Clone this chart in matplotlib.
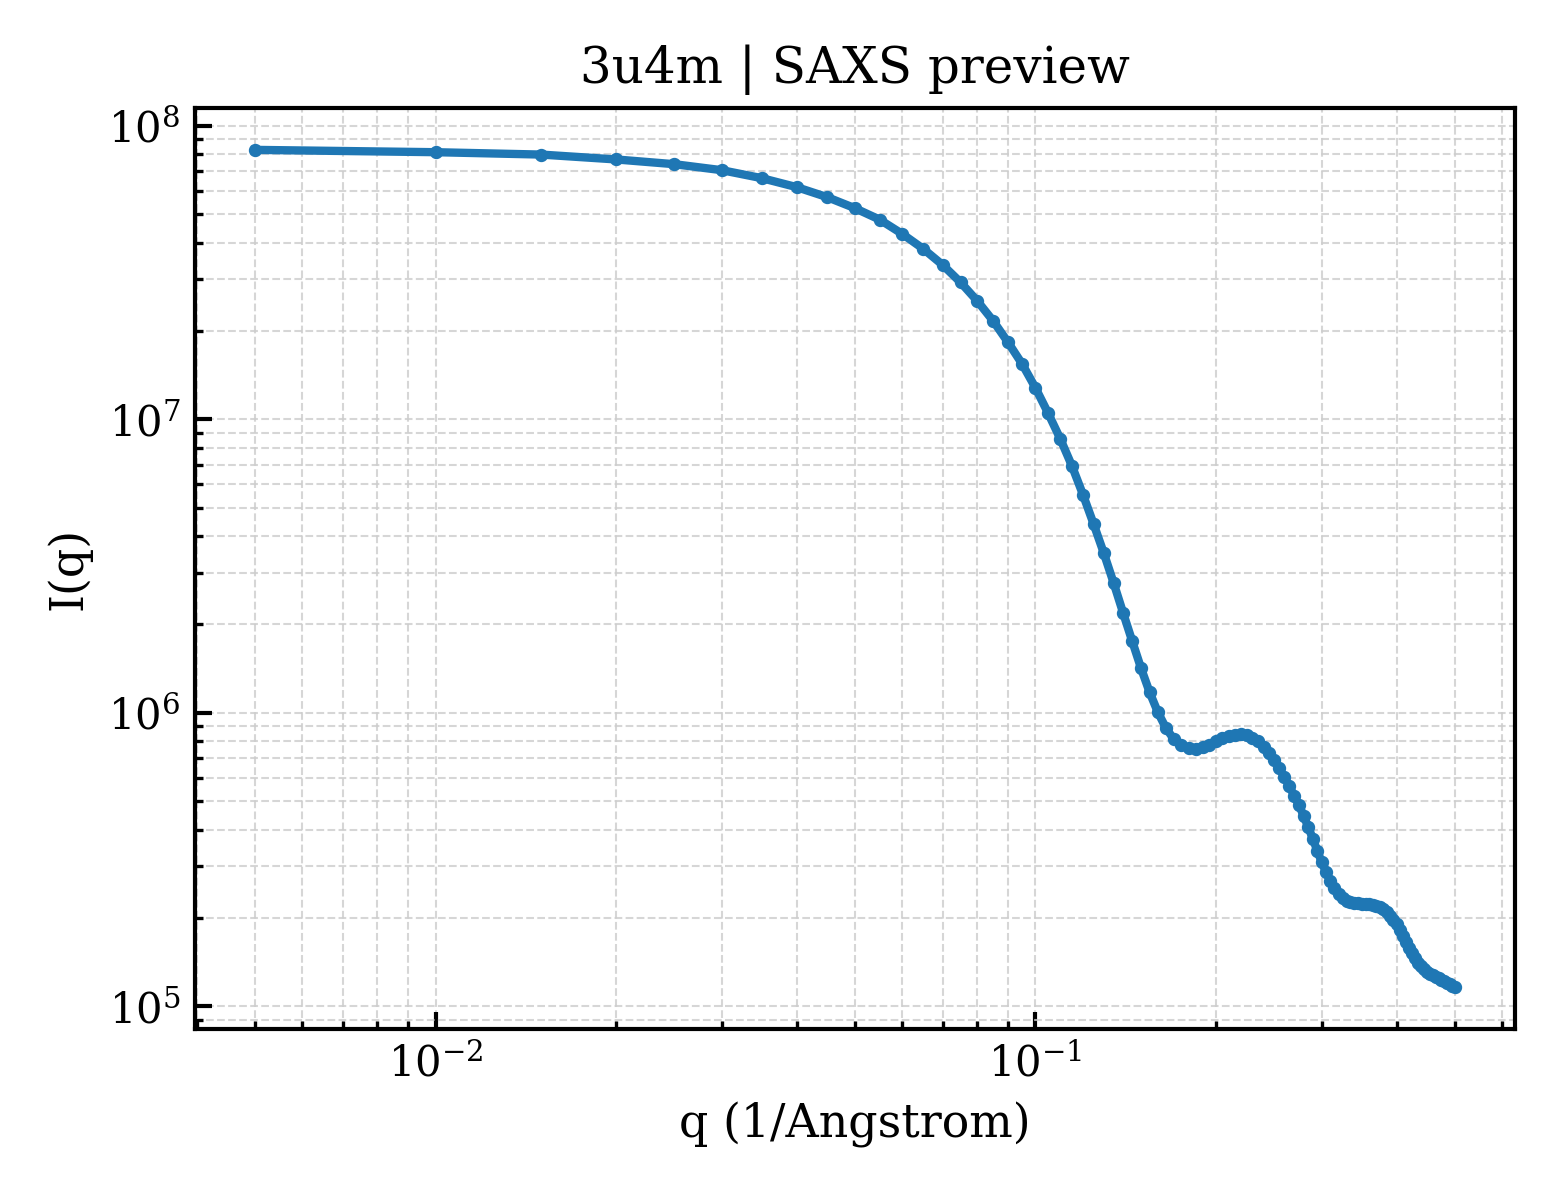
import matplotlib
matplotlib.use("Agg")
import matplotlib.pyplot as plt

pdb_id = "3u4m"

q = [0.005, 0.010, 0.015, 0.020, 0.025, 0.030, 0.035, 0.040, 0.045, 0.050,
     0.055, 0.060, 0.065, 0.070, 0.075, 0.080, 0.085, 0.090, 0.095, 0.100,
     0.105, 0.110, 0.115, 0.120, 0.125, 0.130, 0.135, 0.140, 0.145, 0.150,
     0.155, 0.160, 0.165, 0.170, 0.175, 0.180, 0.185, 0.190, 0.195, 0.200,
     0.205, 0.210, 0.215, 0.220, 0.225, 0.230, 0.235, 0.240, 0.245, 0.250,
     0.255, 0.260, 0.265, 0.270, 0.275, 0.280, 0.285, 0.290, 0.295, 0.300,
     0.305, 0.310, 0.315, 0.320, 0.325, 0.330, 0.335, 0.340, 0.345, 0.350,
     0.355, 0.360, 0.365, 0.370, 0.375, 0.380, 0.385, 0.390, 0.395, 0.400,
     0.405, 0.410, 0.415, 0.420, 0.425, 0.430, 0.435, 0.440, 0.445, 0.450,
     0.455, 0.460, 0.465, 0.470, 0.475, 0.480, 0.485, 0.490, 0.495, 0.500]

intensity = [8.28e7, 8.13e7, 7.98e7, 7.68e7, 7.40e7, 7.06e7, 6.63e7, 6.18e7, 5.71e7, 5.24e7,
             4.79e7, 4.28e7, 3.81e7, 3.36e7, 2.93e7, 2.53e7, 2.165e7, 1.83e7, 1.545e7, 1.28e7,
             1.049e7, 8.58e6, 6.95e6, 5.54e6, 4.40e6, 3.50e6, 2.77e6, 2.19e6, 1.753e6, 1.418e6,
             1.175e6, 1.004e6, 8.88e5, 8.14e5, 7.77e5, 7.59e5, 7.56e5, 7.65e5, 7.80e5, 8.01e5,
             8.21e5, 8.34e5, 8.43e5, 8.47e5, 8.40e5, 8.24e5, 8.01e5, 7.65e5, 7.29e5, 6.90e5,
             6.48e5, 6.04e5, 5.63e5, 5.21e5, 4.85e5, 4.45e5, 4.08e5, 3.72e5, 3.39e5, 3.10e5,
             2.87e5, 2.68e5, 2.53e5, 2.42e5, 2.34e5, 2.29e5, 2.265e5, 2.247e5, 2.247e5, 2.239e5,
             2.239e5, 2.23e5, 2.213e5, 2.204e5, 2.187e5, 2.145e5, 2.095e5, 2.03e5, 1.967e5, 1.906e5,
             1.818e5, 1.735e5, 1.655e5, 1.579e5, 1.518e5, 1.46e5, 1.409e5, 1.371e5, 1.339e5, 1.313e5,
             1.293e5, 1.277e5, 1.262e5, 1.247e5, 1.233e5, 1.219e5, 1.205e5, 1.191e5, 1.177e5, 1.163e5]

plt.rcParams['font.family'] = 'DejaVu Serif'
plt.rcParams['mathtext.fontset'] = 'dejavuserif'
plt.rcParams['axes.linewidth'] = 1.0

fig, ax = plt.subplots(figsize=(5.2, 4.0))
ax.plot(q, intensity, '-o', color='#1f77b4', linewidth=2.0, markersize=2.2)
ax.set_xscale('log')
ax.set_yscale('log')

ax.set_xlabel('q (1/Angstrom)', fontsize=11)
ax.set_ylabel('I(q)', fontsize=11)
ax.set_title(f'{pdb_id} | SAXS preview', fontsize=12)

ax.grid(True, which='both', linestyle='--', linewidth=0.5, color='#cccccc', alpha=0.8)
ax.tick_params(which='both', direction='in', labelsize=10)
ax.tick_params(which='major', length=4, width=1.0)
ax.tick_params(which='minor', length=2, width=0.8)

fig.subplots_adjust(left=0.125, right=0.971, top=0.91, bottom=0.1425)
fig.savefig('out.png', dpi=300)
plt.close(fig)
